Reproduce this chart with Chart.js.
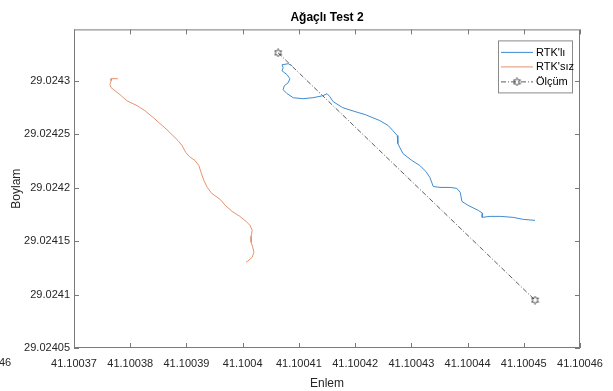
<!DOCTYPE html>
<html>
<head>
<meta charset="utf-8">
<script src="https://cdn.jsdelivr.net/npm/chart.js@4/dist/chart.umd.min.js"></script>
<style>
    html, body { margin: 0; padding: 0; background: #fff; }
    canvas { display: block; }
</style>
</head>
<body>
<canvas id="chart" width="613" height="391"></canvas>
<script>
// Chart data (Enlem / Boylam)
const rtkliX = [41.1004088, 41.1004081, 41.1004070, 41.1004072, 41.1004070, 41.1004079, 41.1004084, 41.1004081,
    41.1004074, 41.1004072, 41.1004079, 41.1004090, 41.1004107, 41.1004125, 41.1004143, 41.1004150, 41.1004155,
    41.1004161, 41.1004178, 41.1004200, 41.1004218, 41.1004244, 41.1004259, 41.1004267, 41.1004275, 41.1004276,
    41.1004276, 41.1004285, 41.1004301, 41.1004315, 41.1004326, 41.1004333, 41.1004339, 41.1004351, 41.1004369,
    41.1004381, 41.1004387, 41.1004390, 41.1004401, 41.1004419, 41.1004427, 41.1004426, 41.1004440, 41.1004458,
    41.1004481, 41.1004499, 41.1004520];
const rtkliY = [29.0243140, 29.0243159, 29.0243149, 29.0243121, 29.0243093, 29.0243056, 29.0243019, 29.0242981,
    29.0242953, 29.0242916, 29.0242879, 29.0242841, 29.0242832, 29.0242841, 29.0242860, 29.0242879, 29.0242851,
    29.0242804, 29.0242748, 29.0242711, 29.0242683, 29.0242627, 29.0242580, 29.0242534, 29.0242487, 29.0242459,
    29.0242412, 29.0242319, 29.0242254, 29.0242207, 29.0242151, 29.0242095, 29.0242011, 29.0242002, 29.0242002,
    29.0241993, 29.0241955, 29.0241871, 29.0241834, 29.0241787, 29.0241759, 29.0241722, 29.0241731, 29.0241731,
    29.0241722, 29.0241703, 29.0241694];

const rtksizX = [41.1003778, 41.1003766, 41.1003766, 41.1003764, 41.1003766, 41.1003782, 41.1003794, 41.1003812,
    41.1003826, 41.1003841, 41.1003853, 41.1003865, 41.1003876, 41.1003885, 41.1003892, 41.1003899, 41.1003905,
    41.1003915, 41.1003922, 41.1003926, 41.1003931, 41.1003937, 41.1003945, 41.1003960, 41.1003969, 41.1003981,
    41.1003995, 41.1004006, 41.1004013, 41.1004017, 41.1004015, 41.1004015, 41.1004018, 41.1004020, 41.1004017,
    41.1004009, 41.1004006];
const rtksizY = [29.0243019, 29.0243019, 29.0243000, 29.0242963, 29.0242935, 29.0242869, 29.0242813, 29.0242767,
    29.0242720, 29.0242655, 29.0242599, 29.0242543, 29.0242487, 29.0242440, 29.0242394, 29.0242328, 29.0242291,
    29.0242254, 29.0242207, 29.0242142, 29.0242067, 29.0242002, 29.0241946, 29.0241890, 29.0241834, 29.0241778,
    29.0241731, 29.0241685, 29.0241647, 29.0241601, 29.0241545, 29.0241489, 29.0241442, 29.0241396, 29.0241349,
    29.0241312, 29.0241302];

const olcumX = [41.1004063, 41.1004520];
const olcumY = [29.0243261, 29.0240948];

// Axis ticks
const xTicks = [41.10037, 41.10038, 41.10039, 41.1004, 41.10041, 41.10042, 41.10043, 41.10044, 41.10045, 41.10046];
const xTickLabels = ['41.10037', '41.10038', '41.10039', '41.1004', '41.10041', '41.10042', '41.10043', '41.10044', '41.10045', '41.10046'];
const yTicks = [29.02405, 29.0241, 29.02415, 29.0242, 29.02425, 29.0243];
const yTickLabels = ['29.02405', '29.0241', '29.02415', '29.0242', '29.02425', '29.0243'];

// Chart colors
const COLORS = {
    rtkli: '#3f8bcf',
    rtksiz: '#e2875d',
    olcum: '#333333',
    axis: '#7a7a7a',
    text: '#262626'
};

const FONT = 'Arial, "Liberation Sans", sans-serif';

const toPoints = (xs, ys) => xs.map((x, i) => ({ x, y: ys[i] }));

// Hexagram marker (MATLAB 'h')
const makeHexagram = (size) => {
    const c = document.createElement('canvas');
    c.width = size;
    c.height = size;
    const g = c.getContext('2d');
    const cx = size / 2, cy = size / 2;
    const R = size / 2 - 0.6, r = R / Math.sqrt(3);
    g.beginPath();
    for (let i = 0; i < 12; i++) {
        const a = -Math.PI / 2 + i * Math.PI / 6;
        const rad = i % 2 === 0 ? R : r;
        const px = cx + rad * Math.cos(a), py = cy + rad * Math.sin(a);
        i === 0 ? g.moveTo(px, py) : g.lineTo(px, py);
    }
    g.closePath();
    g.strokeStyle = '#222';
    g.lineWidth = 0.8;
    g.stroke();
    return c;
};
const hexagram = makeHexagram(9);

// Box, inward ticks and legend like a MATLAB axes
const matlabAxes = {
    id: 'matlabAxes',
    afterDatasetsDraw(chart) {
        const { ctx, chartArea: a, scales } = chart;
        const len = 5;
        ctx.save();
        ctx.strokeStyle = COLORS.axis;
        ctx.lineWidth = 1;
        ctx.strokeRect(a.left + 0.5, a.top + 0.5, a.right - a.left - 1, a.bottom - a.top - 1);
        ctx.beginPath();
        scales.x.ticks.forEach(t => {
            const px = Math.round(scales.x.getPixelForValue(t.value)) + 0.5;
            ctx.moveTo(px, a.bottom); ctx.lineTo(px, a.bottom - len);
            ctx.moveTo(px, a.top); ctx.lineTo(px, a.top + len);
        });
        scales.y.ticks.forEach(t => {
            const py = Math.round(scales.y.getPixelForValue(t.value)) + 0.5;
            ctx.moveTo(a.left, py); ctx.lineTo(a.left + len, py);
            ctx.moveTo(a.right, py); ctx.lineTo(a.right - len, py);
        });
        ctx.stroke();

        // Legend
        const w = 74, h = 52;
        const lx = a.right - 8 - w, ly = a.top + 11;
        ctx.fillStyle = '#fff';
        ctx.fillRect(lx, ly, w, h);
        ctx.strokeStyle = '#8a8a8a';
        ctx.strokeRect(lx + 0.5, ly + 0.5, w, h);
        const rows = [12, 26.5, 41.5];
        ctx.font = '11px ' + FONT;
        ctx.textBaseline = 'middle';
        chart.data.datasets.forEach((ds, i) => {
            const y = ly + rows[i];
            ctx.beginPath();
            ctx.strokeStyle = ds.borderColor;
            ctx.lineWidth = ds.borderWidth;
            ctx.setLineDash(ds.borderDash || []);
            ctx.moveTo(lx + 3, y);
            ctx.lineTo(lx + 35, y);
            ctx.stroke();
            ctx.setLineDash([]);
            if (ds.pointStyle instanceof HTMLCanvasElement) {
                ctx.drawImage(ds.pointStyle, lx + 19 - ds.pointStyle.width / 2, y - ds.pointStyle.height / 2);
            }
            ctx.fillStyle = '#000';
            ctx.fillText(ds.label, lx + 38, y + 0.5);
        });

        // Cut-off label at the left edge of the picture
        ctx.fillStyle = COLORS.text;
        ctx.textAlign = 'left';
        ctx.fillText('46', -1, 363);
        ctx.restore();
    }
};

const tickFont = { family: FONT, size: 11 };

const chart = new Chart(document.getElementById('chart'), {
    type: 'scatter',
    data: {
        datasets: [
            {
                label: "RTK'lı",
                data: toPoints(rtkliX, rtkliY),
                showLine: true,
                borderColor: COLORS.rtkli,
                borderWidth: 1,
                pointRadius: 0,
                tension: 0
            },
            {
                label: "RTK'sız",
                data: toPoints(rtksizX, rtksizY),
                showLine: true,
                borderColor: COLORS.rtksiz,
                borderWidth: 0.9,
                pointRadius: 0,
                tension: 0
            },
            {
                label: 'Ölçüm',
                data: toPoints(olcumX, olcumY),
                showLine: true,
                borderColor: COLORS.olcum,
                borderWidth: 0.8,
                borderDash: [5, 2, 1, 2],
                pointStyle: hexagram,
                pointRadius: 5,
                tension: 0
            }
        ]
    },
    options: {
        responsive: false,
        animation: false,
        devicePixelRatio: 1,
        layout: { padding: { left: 0, right: 33, top: 0, bottom: 0 } },
        plugins: {
            legend: { display: false },
            tooltip: { enabled: false },
            title: {
                display: true,
                text: 'Ağaçlı Test 2',
                fullSize: false,
                color: '#000',
                font: { family: FONT, size: 12, weight: 'bold' },
                padding: { top: 10, bottom: 5 }
            }
        },
        scales: {
            x: {
                type: 'linear',
                min: 41.10037,
                max: 41.10046,
                afterBuildTicks: s => { s.ticks = xTicks.map(v => ({ value: v })); },
                afterFit: s => { s.height = 43; },
                ticks: {
                    autoSkip: false,
                    maxRotation: 0,
                    padding: 9,
                    color: COLORS.text,
                    font: tickFont,
                    callback: (v, i) => xTickLabels[i]
                },
                grid: { display: false, drawTicks: false },
                border: { display: false },
                title: {
                    display: true,
                    text: 'Enlem',
                    color: COLORS.text,
                    font: { family: FONT, size: 12 },
                    padding: { top: 1, bottom: 0 }
                }
            },
            y: {
                type: 'linear',
                min: 29.02405,
                max: 29.024348,
                afterBuildTicks: s => { s.ticks = yTicks.map(v => ({ value: v })); },
                afterFit: s => { s.width = 74; },
                ticks: {
                    autoSkip: false,
                    padding: 4,
                    color: COLORS.text,
                    font: tickFont,
                    callback: (v, i) => yTickLabels[i]
                },
                grid: { display: false, drawTicks: false },
                border: { display: false },
                title: {
                    display: true,
                    text: 'Boylam',
                    color: COLORS.text,
                    font: { family: FONT, size: 12 },
                    padding: { top: 9, bottom: 0 }
                }
            }
        }
    },
    plugins: [matlabAxes]
});
</script>
</body>
</html>
